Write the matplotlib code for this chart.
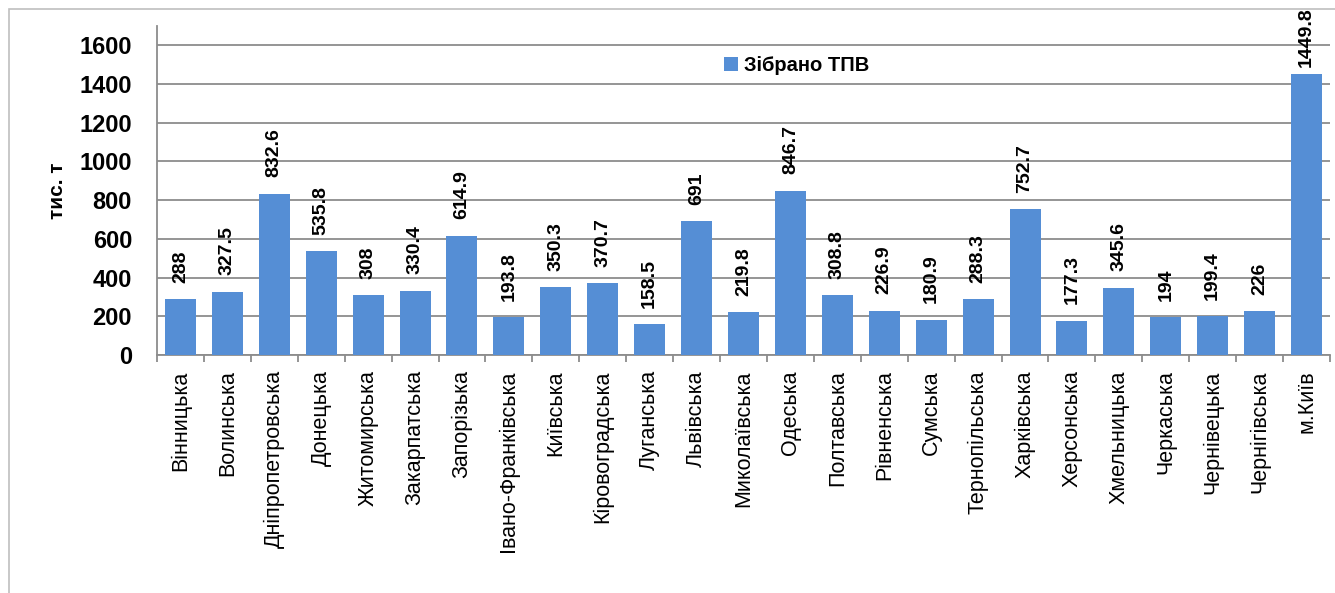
import numpy as np
import matplotlib
matplotlib.use('Agg')
import matplotlib.pyplot as plt
from matplotlib.patches import Rectangle

plt.rcParams['font.family'] = ['Liberation Sans', 'DejaVu Sans']

# Data
regions = ['Вінницька', 'Волинська', 'Дніпропетровська', 'Донецька', 'Житомирська',
           'Закарпатська', 'Запорізька', 'Івано-Франківська', 'Київська', 'Кіровоградська',
           'Луганська', 'Львівська', 'Миколаївська', 'Одеська', 'Полтавська',
           'Рівненська', 'Сумська', 'Тернопільська', 'Харківська', 'Херсонська',
           'Хмельницька', 'Черкаська', 'Чернівецька', 'Чернігівська', 'м.Київ']
collected = [288, 327.5, 832.6, 535.8, 308, 330.4, 614.9, 193.8, 350.3, 370.7,
             158.5, 691, 219.8, 846.7, 308.8, 226.9, 180.9, 288.3, 752.7, 177.3,
             345.6, 194, 199.4, 226, 1449.8]
labels = ['288', '327.5', '832.6', '535.8', '308', '330.4', '614.9', '193.8', '350.3', '370.7',
          '158.5', '691', '219.8', '846.7', '308.8', '226.9', '180.9', '288.3', '752.7', '177.3',
          '345.6', '194', '199.4', '226', '1449.8']
yticks = [0, 200, 400, 600, 800, 1000, 1200, 1400, 1600]

fig = plt.figure(figsize=(13.35, 5.93), dpi=100)
# chart frame (only left and top edges visible in the picture)
fig.patches.append(Rectangle((9 / 1335, -0.1), 1.2, 1.1 - 9 / 593, transform=fig.transFigure,
                             fill=False, edgecolor='#bfbfbf', linewidth=1.2))

ax = fig.add_axes([157 / 1335, 1 - 355 / 593, 1173 / 1335, 329 / 593])
x = np.arange(len(regions))
bars = ax.bar(x, collected, width=0.66, color='#558ed5', label='Зібрано ТПВ', zorder=3)

for xi, v, lab in zip(x, collected, labels):
    off = 12 if v < 1400 else 5
    ax.annotate(lab, (xi, v), xytext=(0, off), textcoords='offset points',
                rotation=90, ha='center', va='bottom', fontsize=14, fontweight='bold',
                annotation_clip=False, zorder=4)

ax.set_xlim(-0.5, len(regions) - 0.5)
ax.set_ylim(0, 1700)
ax.set_yticks(yticks)
ax.set_yticklabels([str(t) for t in yticks], fontsize=17, fontweight='bold')
ax.yaxis.grid(True, color='#8c8c8c', linewidth=1.3, zorder=0)
ax.tick_params(axis='y', length=0, pad=18)

ax.set_xticks(x)
ax.set_xticklabels(regions, rotation=90, fontsize=15.5, va='top', ha='center')
ax.set_xticks(np.arange(len(regions) + 1) - 0.5, minor=True)
ax.tick_params(axis='x', which='major', length=0, pad=11)
ax.tick_params(axis='x', which='minor', length=5, color='#8c8c8c', width=1.3)

for side in ['top', 'right']:
    ax.spines[side].set_visible(False)
for side in ['left', 'bottom']:
    ax.spines[side].set_color('#8c8c8c')
    ax.spines[side].set_linewidth(1.3)

ax.set_ylabel('тис. т', fontsize=15, fontweight='bold', labelpad=9)

ax.legend(loc='upper left', bbox_to_anchor=(0.468, 0.965), frameon=False,
          prop={'weight': 'bold', 'size': 14.5}, handlelength=0.7, handleheight=0.7,
          handletextpad=0.3)

fig.savefig('out.png', dpi=100)
